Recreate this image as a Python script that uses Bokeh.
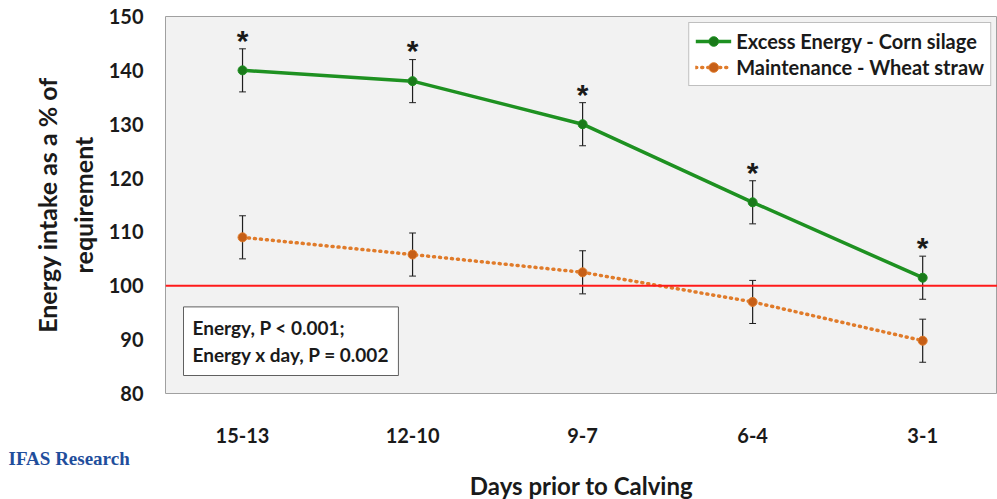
from bokeh.plotting import figure
from bokeh.models import Span, Label, Legend, LegendItem, Whisker, ColumnDataSource, FixedTicker, Title
from bokeh.embed import file_html
from bokeh.resources import INLINE

days = ["15-13", "12-10", "9-7", "6-4", "3-1"]
corn = [140.0, 138.0, 130.0, 115.5, 101.5]
corn_err = [4.0, 4.0, 4.0, 4.0, 4.0]
straw = [109.0, 105.8, 102.5, 97.0, 89.8]
straw_err = [4.0, 4.0, 4.0, 4.0, 4.0]

xs = list(range(len(days)))
FONT = "Lato"

p = figure(width=997, height=499, x_range=(-0.453, 4.44), y_range=(80, 150),
           output_backend="svg", toolbar_location=None,
           min_border_left=165, min_border_top=16, min_border_bottom=0, min_border_right=0)
p.background_fill_color = "#f2f2f2"
p.border_fill_color = "white"
p.outline_line_color = "#a0a0a0"
p.xgrid.visible = False
p.ygrid.visible = False

p.add_layout(Span(location=100, dimension="width", line_color="#ff1a1a", line_width=2))

for vals, errs in [(corn, corn_err), (straw, straw_err)]:
    lo = [v - e for v, e in zip(vals, errs)]
    hi = [v + e for v, e in zip(vals, errs)]
    src = ColumnDataSource(dict(x=xs, lo=lo, hi=hi))
    p.add_layout(Whisker(source=src, base="x", lower="lo", upper="hi", line_color="#1f1f1f",
                         line_width=1.2, upper_head=None, lower_head=None))
    p.segment(x0=[x - 0.02 for x in xs], x1=[x + 0.02 for x in xs], y0=lo, y1=lo, color="#1f1f1f")
    p.segment(x0=[x - 0.02 for x in xs], x1=[x + 0.02 for x in xs], y0=hi, y1=hi, color="#1f1f1f")

g_line = p.line(xs, corn, line_color="#1e9121", line_width=3.5)
g_pts = p.scatter(xs, corn, size=9, fill_color="#1a7a1a", line_color="#1e9121")
o_line = p.line(xs, straw, line_color="#e07b2a", line_width=3.5, line_dash="1 5", line_cap="round")
o_pts = p.scatter(xs, straw, size=9, fill_color="#c65f17", line_color="#e07b2a")

p.text(xs, [v + e + 1.6 for v, e in zip(corn, corn_err)], text=["*"] * len(xs),
       text_align="center", text_baseline="middle", text_font_size="30px",
       text_font_style="bold", text_color="#1a1a1a")

legend = Legend(items=[LegendItem(label="Excess Energy - Corn silage", renderers=[g_line, g_pts]),
                       LegendItem(label="Maintenance - Wheat straw", renderers=[o_line, o_pts])],
                location="top_right", label_text_font=FONT, label_text_font_size="20px",
                label_text_font_style="bold", label_text_color="#1a1a1a",
                border_line_color="#808080", background_fill_alpha=1,
                glyph_width=36, spacing=2, padding=6, margin=6, label_height=24, glyph_height=24)
p.add_layout(legend)

p.add_layout(Label(x=18, y=18, x_units="screen", y_units="screen",
                   text="Energy, P < 0.001;\nEnergy x day, P = 0.002",
                   text_font=FONT, text_font_size="19px", text_font_style="bold", text_color="#1a1a1a",
                   border_line_color="#606060", background_fill_color="white",
                   padding=9))

p.add_layout(Title(text="IFAS Research", align="left", offset=-157,
                   text_font="Liberation Serif", text_font_size="19px", text_font_style="bold",
                   text_color="#1f4e9c", standoff=0), "below")
p.add_layout(Title(text="Days prior to Calving", align="center",
                   text_font=FONT, text_font_size="24px", text_font_style="bold",
                   text_color="#1a1a1a", standoff=0), "below")

p.xaxis.ticker = FixedTicker(ticks=xs)
p.xaxis.major_label_overrides = {i: d for i, d in enumerate(days)}
p.yaxis.ticker = FixedTicker(ticks=[80, 90, 100, 110, 120, 130, 140, 150])
for ax in (p.xaxis, p.yaxis):
    ax.axis_line_color = None
    ax.major_tick_line_color = None
    ax.minor_tick_line_color = None
    ax.major_label_text_font = FONT
    ax.major_label_text_font_size = "20px"
    ax.major_label_text_font_style = "bold"
    ax.major_label_text_color = "#1a1a1a"
    ax.axis_label_text_font = FONT
    ax.axis_label_text_font_size = "25px"
    ax.axis_label_text_font_style = "bold"
    ax.axis_label_text_color = "#1a1a1a"
p.xaxis.major_label_standoff = 28
p.yaxis.axis_label = "Energy intake as a % of\nrequirement"
p.yaxis.major_label_standoff = 16
p.yaxis.axis_label_standoff = 8

open("out.html", "w").write(file_html(p, INLINE))
